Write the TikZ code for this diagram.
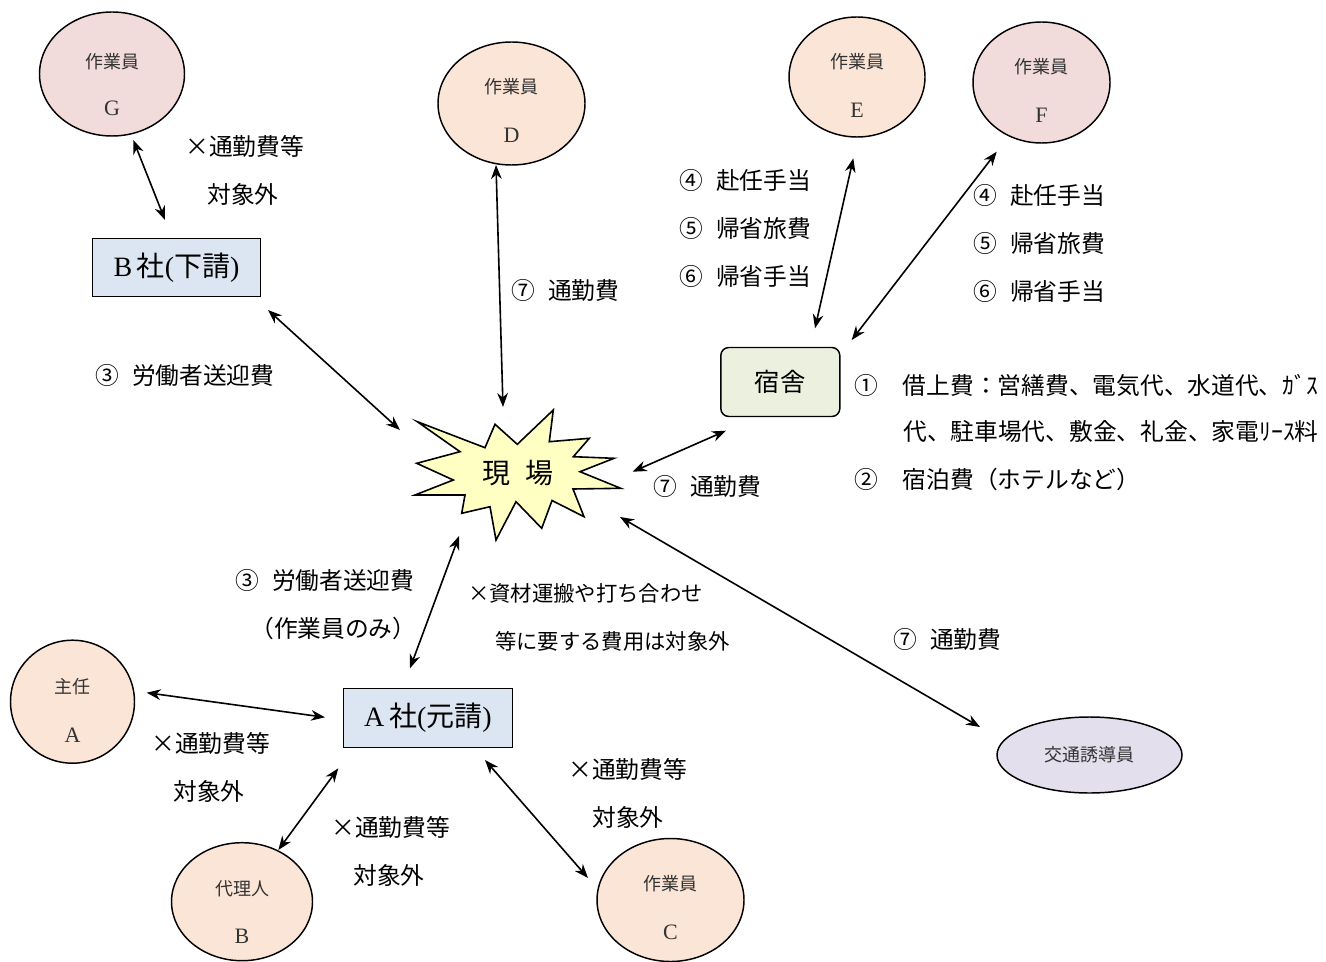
\documentclass[tikz,border=0pt]{standalone}
\usepackage{fontspec}
\setmainfont{Liberation Serif}
\newfontfamily\cjk{Noto Sans CJK JP}
\usetikzlibrary{arrows.meta,calc,shapes.geometric}
\definecolor{peach}{HTML}{FBE5D6}
\definecolor{pinkc}{HTML}{F2DCDB}
\definecolor{lavender}{HTML}{E4DFEC}
\definecolor{boxblue}{HTML}{DCE6F2}
\definecolor{boxgreen}{HTML}{EBF1DE}
\definecolor{staryellow}{HTML}{FFFFC4}
\definecolor{ctextcol}{HTML}{333333}
\newcommand{\gp}{\hspace{0.55em}}
\begin{document}
\begin{tikzpicture}[x=0.75pt,y=-0.75pt,
  circ/.style={ellipse,draw,line width=1.1pt,inner sep=0pt},
  ctext/.style={inner sep=0pt,text=ctextcol,font=\cjk\fontsize{13.5}{16}\selectfont},
  cletter/.style={inner sep=0pt,text=ctextcol,font=\rmfamily\fontsize{16.5}{19}\selectfont},
  company/.style={rectangle,draw,line width=1.1pt,fill=boxblue,inner sep=0pt,font=\fontsize{21}{24}\selectfont},
  lbl/.style={anchor=west,inner sep=0pt,font=\cjk\fontsize{17.8}{20}\selectfont},
  slbl/.style={anchor=west,inner sep=0pt,font=\cjk\fontsize{16}{19}\selectfont},
  dbl/.style={{Stealth[length=10.5pt,width=8pt]}-{Stealth[length=10.5pt,width=8pt]},line width=1.2pt}]
\useasboundingbox (0,0) rectangle (1326,962);

% ---- star (site)
\draw[line width=1.2pt,fill=staryellow,line join=miter]
 (417.3,421.7) -- (485,447.7) -- (495,424.3) -- (517.3,444.3) -- (553.3,410) -- (549.3,441.7)
 -- (589.3,438.3) -- (573.3,456.7) -- (614,458.3) -- (580,471.7) -- (620.7,488.3) -- (573,489)
 -- (584,516.7) -- (552,500.5) -- (541.7,528.3) -- (516,501.7) -- (496,540) -- (490,506.7)
 -- (461.7,513.3) -- (465,495) -- (415,495) -- (453.3,480) -- (416.7,463.3) -- (460,451.7) -- cycle;
\node[inner sep=0pt,font=\cjk\fontsize{21}{24}\selectfont] (site) at (518,473) {現\gp 場};

% ---- worker circles
\node[circ,fill=pinkc,minimum width={145*0.75pt},minimum height={124*0.75pt}] (G) at (112,74) {};
\node[ctext] (Gt) at (112,61.7) {作業員};
\node[cletter] (Gl) at (112,108) {G};

\node[circ,fill=peach,minimum width={147*0.75pt},minimum height={123*0.75pt}] (D) at (511.5,103.5) {};
\node[ctext] (Dt) at (511.5,87) {作業員};
\node[cletter] (Dl) at (511.5,135) {D};

\node[circ,fill=peach,minimum width={136*0.75pt},minimum height={120*0.75pt}] (E) at (857,77) {};
\node[ctext] (Et) at (857,61.7) {作業員};
\node[cletter] (El) at (857,110) {E};

\node[circ,fill=pinkc,minimum width={137*0.75pt},minimum height={121*0.75pt}] (F) at (1041.5,82.5) {};
\node[ctext] (Ft) at (1041.5,66.7) {作業員};
\node[cletter] (Fl) at (1041.5,115) {F};

\node[circ,fill=peach,minimum width={124*0.75pt},minimum height={123*0.75pt}] (S) at (72.5,701.7) {};
\node[ctext] (St) at (72.5,686.7) {主任};
\node[cletter] (Sl) at (72.5,735) {A};

\node[circ,fill=peach,minimum width={141*0.75pt},minimum height={118*0.75pt}] (R) at (242,901.7) {};
\node[ctext] (Rt) at (242,888.3) {代理人};
\node[cletter] (Rl) at (242,936.7) {B};

\node[circ,fill=peach,minimum width={147*0.75pt},minimum height={123*0.75pt}] (C) at (670.5,900) {};
\node[ctext] (Ct) at (670.5,884) {作業員};
\node[cletter] (Cl) at (670.5,932) {C};

\node[circ,fill=lavender,minimum width={185*0.75pt},minimum height={76*0.75pt}] (K) at (1089.5,755) {};
\node[ctext] (Kt) at (1089.5,755) {交通誘導員};

% ---- company boxes and dormitory
\node[company,minimum width={168*0.75pt},minimum height={58*0.75pt}] (Bs) at (176.5,267.5) {B\,{\cjk 社}({\cjk 下請})};
\node[company,minimum width={169*0.75pt},minimum height={59*0.75pt}] (As) at (428,717.8) {A\,{\cjk 社}({\cjk 元請})};
\node[rectangle,rounded corners=6pt,draw,line width=1.1pt,fill=boxgreen,inner sep=0pt,
  minimum width={119*0.75pt},minimum height={69*0.75pt},font=\cjk\fontsize{19}{22}\selectfont] (H) at (780.3,382) {宿舎};

% ---- connectors
\draw[dbl] ($(G)+(21.3,66)$) -- ($(Bs)+(-11.5,-47.5)$);
\draw[dbl] ($(D)+(-15.5,61.5)$) -- ($(site)+(-15,-66)$);
\draw[dbl] ($(E)+(-3.7,81.3)$) -- ($(H)+(34.7,-53.7)$);
\draw[dbl] ($(F)+(-44.8,69.2)$) -- ($(H)+(71.4,-42)$);
\draw[dbl] ($(Bs)+(91.5,42.5)$) -- ($(site)+(-118,-43)$);
\draw[dbl] ($(H)+(-54.3,48.7)$) -- ($(site)+(114.7,-1.3)$);
\draw[dbl] ($(site)+(102,44)$) -- ($(K)+(-109.5,-28)$);
\draw[dbl] ($(site)+(-59,63)$) -- ($(As)+(-18,-49.5)$);
\draw[dbl] ($(S)+(74.2,-9)$) -- ($(As)+(-103,-0.5)$);
\draw[dbl] ($(As)+(-89.7,50.5)$) -- ($(R)+(36.3,-51.7)$);
\draw[dbl] ($(As)+(57,42.2)$) -- ($(C)+(-82.5,-22)$);

% ---- labels
\node[lbl] (l1a) at (185,146) {×通勤費等};
\node[lbl] (l1b) at (207,194) {対象外};
\node[lbl] (l2) at (95,375) {③\gp 労働者送迎費};
\node[lbl] (l3) at (511,290) {⑦\gp 通勤費};
\node[lbl] (l4a) at (679,180) {④\gp 赴任手当};
\node[lbl] (l4b) at (679,228) {⑤\gp 帰省旅費};
\node[lbl] (l4c) at (679,276) {⑥\gp 帰省手当};
\node[lbl] (l5a) at (973,195) {④\gp 赴任手当};
\node[lbl] (l5b) at (973,243) {⑤\gp 帰省旅費};
\node[lbl] (l5c) at (973,291) {⑥\gp 帰省手当};
\node[lbl] (l6a) at (854,385) {①\hspace{1.05em}借上費：営繕費、電気代、水道代、ｶﾞｽ};
\node[lbl] (l6b) at (903,431) {代、駐車場代、敷金、礼金、家電ﾘｰｽ料};
\node[lbl] (l6c) at (854,479) {②\hspace{1.05em}宿泊費（ホテルなど）};
\node[lbl] (l7) at (653,486) {⑦\gp 通勤費};
\node[lbl] (l8a) at (235,580) {③\gp 労働者送迎費};
\node[lbl] (l8b) at (250,628) {（作業員のみ）};
\node[slbl] (l9a) at (468,593) {×資材運搬や打ち合わせ};
\node[slbl] (l9b) at (495,641) {等に要する費用は対象外};
\node[lbl] (l10) at (893,639) {⑦\gp 通勤費};
\node[lbl] (l11a) at (151,743) {×通勤費等};
\node[lbl] (l11b) at (173,791) {対象外};
\node[lbl] (l12a) at (331,827) {×通勤費等};
\node[lbl] (l12b) at (353,875) {対象外};
\node[lbl] (l13a) at (568,769) {×通勤費等};
\node[lbl] (l13b) at (592,817) {対象外};
\end{tikzpicture}
\end{document}
